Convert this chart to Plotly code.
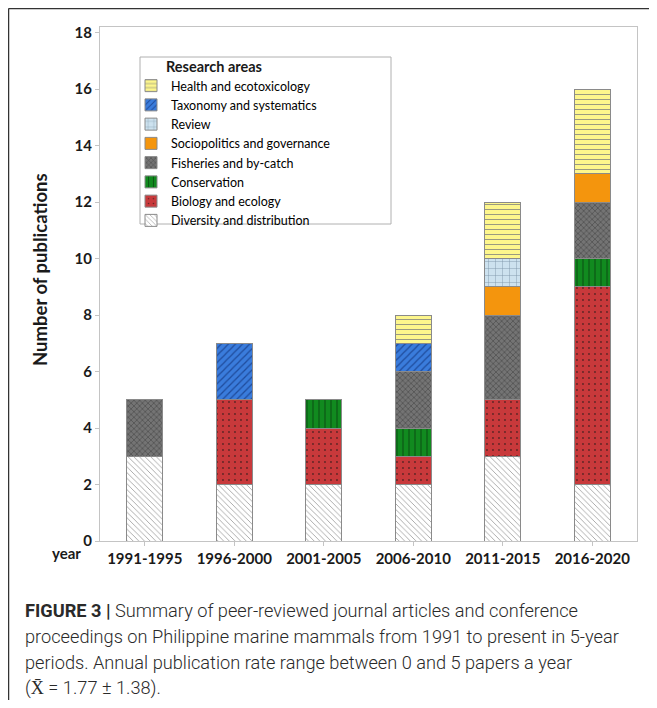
import plotly.graph_objects as go

periods = ["1991-1995", "1996-2000", "2001-2005", "2006-2010", "2011-2015", "2016-2020"]

# stacked bottom -> top
diversity = [3, 2, 2, 2, 3, 2]
biology = [0, 3, 2, 1, 2, 7]
conservation = [0, 0, 1, 1, 0, 1]
fisheries = [2, 0, 0, 2, 3, 2]
sociopolitics = [0, 0, 0, 0, 1, 1]
review = [0, 0, 0, 0, 1, 0]
taxonomy = [0, 2, 0, 1, 0, 0]
health = [0, 0, 0, 1, 2, 3]

series = [
    ("Diversity and distribution", diversity, "#ffffff", "#9a9a9a", "\\", 4, 0.2),
    ("Biology and ecology", biology, "#c8393b", "#5e2424", ".", 6, 0.08),
    ("Conservation", conservation, "#118a1f", "#0b5614", "|", 6, 0.2),
    ("Fisheries and by-catch", fisheries, "#747474", "#505050", "x", 4, 0.35),
    ("Sociopolitics and governance", sociopolitics, "#f4950d", "#f4950d", "", 8, 0.2),
    ("Review", review, "#cde2ef", "#7d94a6", "+", 7, 0.12),
    ("Taxonomy and systematics", taxonomy, "#3a7cdc", "#1f4c9c", "/", 5, 0.25),
    ("Health and ecotoxicology", health, "#fdf68c", "#9a9a80", "-", 5, 0.2),
]

fig = go.Figure()
for name, vals, bg, fg, shape, size, sol in series:
    fig.add_trace(go.Bar(
        name=name, x=periods, y=vals,
        marker=dict(color=bg, line=dict(color="#8a8a8a", width=1),
                    pattern=dict(shape=shape, bgcolor=bg, fgcolor=fg,
                                 size=size, solidity=sol, fillmode="replace")),
        width=0.4,
    ))

# page has an 8px body margin, so work in reference-pixel coordinates and shift
OFF = 8
W, H = 657 - OFF, 708 - OFF
L, R, T, B = 100 - OFF, 637 - OFF, 27 - OFF, 541 - OFF


def px(x):
    return (x - OFF - L) / (R - L)


def py(y):
    return (B - (y - OFF)) / (B - T)


axis_font = dict(family="Lato", size=15, color="#1a1a1a", weight="bold")

fig.update_layout(
    width=W, height=H,
    margin=dict(l=L, r=W - R, t=T, b=H - B),
    barmode="stack",
    plot_bgcolor="white", paper_bgcolor="white",
    font=dict(family="Lato", color="#1a1a1a"),
    showlegend=True,
    legend=dict(
        x=px(131), y=py(71), xanchor="left", yanchor="top",
        traceorder="reversed",
        bgcolor="rgba(0,0,0,0)", borderwidth=0,
        font=dict(family="Lato", size=12.5, color="#000000"),
        itemwidth=30,
    ),
    xaxis=dict(
        type="category", range=[-0.5, 5.5],
        showline=True, linecolor="#c4c4c4", linewidth=1, mirror=True,
        ticks="outside", ticklen=4, tickcolor="#c4c4c4",
        tickfont=axis_font, showgrid=False,
    ),
    yaxis=dict(
        range=[0, 18.2], dtick=2, tick0=0,
        showline=True, linecolor="#c4c4c4", linewidth=1, mirror=True,
        ticks="outside", ticklen=4, tickcolor="#c4c4c4",
        tickfont=axis_font, showgrid=False, zeroline=False,
    ),
    shapes=[
        dict(type="line", xref="paper", yref="paper", x0=px(8.5), x1=px(657), y0=py(8.5), y1=py(8.5),
             line=dict(color="#333333", width=1.5)),
        dict(type="line", xref="paper", yref="paper", x0=px(8.5), x1=px(8.5), y0=py(8.5), y1=py(700),
             line=dict(color="#333333", width=1.5)),
        dict(type="rect", xref="paper", yref="paper", x0=px(140), x1=px(391), y0=py(57), y1=py(224),
             line=dict(color="#b0b0b0", width=1), fillcolor="rgba(0,0,0,0)"),
    ],
)

ann = []
ann.append(dict(text="Number of publications", xref="paper", yref="paper", x=px(40), y=py(270),
                textangle=-90, showarrow=False, xanchor="center", yanchor="middle",
                font=dict(family="Lato", size=18.5, color="#1a1a1a", weight="bold")))
ann.append(dict(text="year", xref="paper", yref="paper", x=px(66), y=py(553),
                showarrow=False, xanchor="center", yanchor="middle", font=axis_font))
ann.append(dict(text="Research areas", xref="paper", yref="paper", x=px(164), y=py(67),
                showarrow=False, xanchor="left", yanchor="middle",
                font=dict(family="Lato", size=14.5, color="#1a1a1a", weight="bold")))

caption = [
    "<b>FIGURE 3 |</b> Summary of peer-reviewed journal articles and conference",
    "proceedings on Philippine marine mammals from 1991 to present in 5-year",
    "periods. Annual publication rate range between 0 and 5 papers a year",
    "(X\u0304 = 1.77 \u00b1 1.38).",
]
for i, line in enumerate(caption):
    ann.append(dict(text=line, xref="paper", yref="paper", x=px(23), y=py(610 + 26 * i),
                    showarrow=False, xanchor="left", yanchor="middle",
                    font=dict(family="Roboto", size=18.2, color="#2a2a2a", weight=300)))
fig.update_layout(annotations=ann)

fig.write_html("out.html")
